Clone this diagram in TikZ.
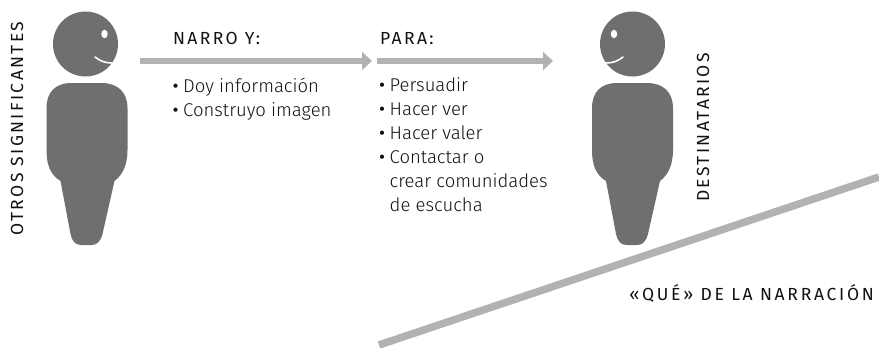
\documentclass[tikz,border=0pt]{standalone}
\usepackage{fontspec}
\usetikzlibrary{arrows.meta}
\setmainfont{Fira Sans Light}
\newfontfamily\capsfont[LetterSpace=13.5]{Fira Sans}
\newfontfamily\widecapsfont[LetterSpace=15.5]{Fira Sans}
\newfontfamily\bulletfont{Fira Sans}
\definecolor{figgray}{HTML}{6F6F6F}
\definecolor{linegray}{HTML}{B2B2B2}
\definecolor{inkgray}{HTML}{111111}
\newcommand{\bul}{\makebox[10.5pt][l]{\bulletfont •}}
\tikzset{
  flow/.style={draw=linegray,line width=6pt,-{Triangle[length=10pt,width=18pt]}},
  slope/.style={draw=linegray,line width=7.5pt},
  capslabel/.style={inner sep=0pt,text=inkgray,font=\capsfont\fontsize{17.5}{20}\selectfont},
  widelabel/.style={inner sep=0pt,text=inkgray,font=\widecapsfont\fontsize{17.5}{20}\selectfont},
  bodytext/.style={inner sep=0pt,anchor=north west,align=left,text=inkgray,font=\fontsize{18.5}{24}\selectfont}
}
\newcommand{\personbody}[1]{%
  \fill[figgray,shift={(#1,0)}]
    (-15,83) -- (15,83)
    .. controls (31,83) and (41,92) .. (41,108)
    -- (41,150)
    .. controls (41,165) and (36,175) .. (28,181)
    -- (16,234)
    .. controls (14,242) and (10,245) .. (5,245)
    -- (-5,245)
    .. controls (-11,245) and (-14,242) .. (-16,234)
    -- (-26,181)
    .. controls (-36,175) and (-40,165) .. (-40,150)
    -- (-40,108)
    .. controls (-40,92) and (-31,83) .. (-15,83) -- cycle;}
\begin{document}
\begin{tikzpicture}[x=1pt,y=-1pt]
\useasboundingbox (0,0) rectangle (879,348);
% left person
\fill[figgray] (85.5,44) circle[radius=32.5];
\fill[white] (104.5,34) ellipse[x radius=3.2,y radius=4.2];
\draw[white,line width=1.6pt,line cap=round] (95,57) .. controls (100,61) and (105,63) .. (112,63);
\personbody{86.5}
% right person
\fill[figgray] (632.5,44) circle[radius=32.5];
\fill[white] (614,34) ellipse[x radius=3.2,y radius=4.2];
\draw[white,line width=1.6pt,line cap=round] (623,57) .. controls (618,61) and (613,63) .. (606,63);
\personbody{632}
% labels
\node[capslabel,rotate=90] (otros) at (17,128.5) {OTROS SIGNIFICANTES};
\node[capslabel,rotate=90] (dest) at (703,127.5) {DESTINATARIOS};
\node[capslabel,anchor=west] (narro) at (173,38.5) {NARRO Y:};
\node[capslabel,anchor=west] (para) at (380,38.5) {PARA:};
\node[widelabel,anchor=east] (que) at (874,293) {«QUÉ» DE LA NARRACIÓN};
% connectors
\coordinate (a1s) at (140,61);
\coordinate (a1e) at (372,61);
\coordinate (a2s) at (377,61);
\coordinate (a2e) at (553,61);
\coordinate (ls) at (379,345);
\coordinate (le) at (879,177);
\draw[flow] (a1s) -- (a1e);
\draw[flow] (a2s) -- (a2e);
\draw[slope] (ls) -- (le);
% body text
\node[bodytext] (list1) at (172.5,77.5) {\bul Doy información\\\bul Construyo imagen};
\node[bodytext] (list2) at (379,77.5) {\bul Persuadir\\\bul Hacer ver\\\bul Hacer valer\\\bul Contactar o\\\hspace*{10.5pt}crear comunidades\\\hspace*{10.5pt}de escucha};
\end{tikzpicture}
\end{document}
